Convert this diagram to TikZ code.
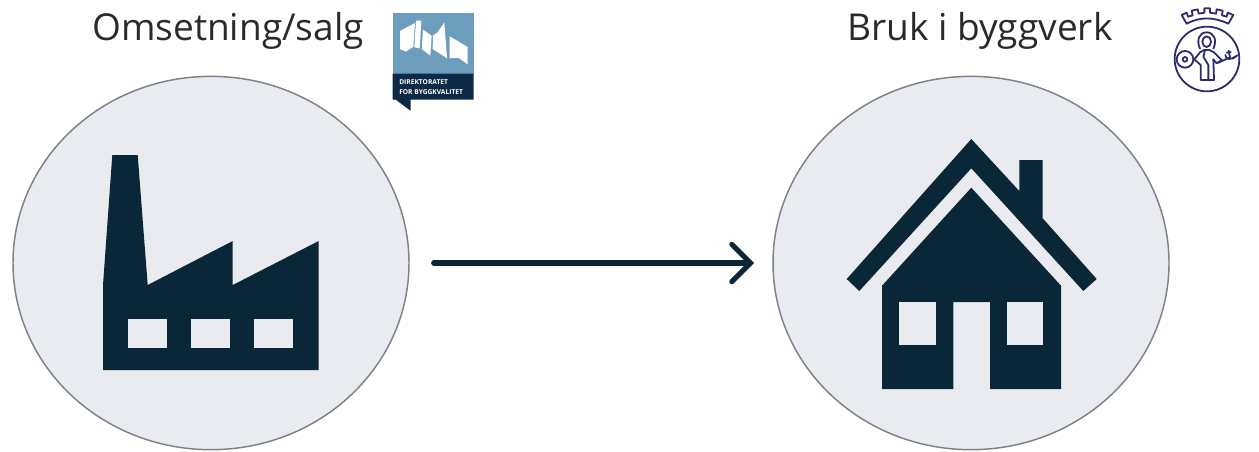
\documentclass[tikz,border=0pt]{standalone}
\usepackage{fontspec}
\setmainfont{Open Sans}
\usetikzlibrary{shapes.geometric,arrows.meta}
\definecolor{ink}{HTML}{0A2737}
\definecolor{pale}{HTML}{E9EBF1}
\definecolor{rim}{HTML}{7C8388}
\definecolor{label}{HTML}{2A2A2A}
\definecolor{dibk}{HTML}{6D9DBD}
\definecolor{dibkdark}{HTML}{0C2A45}
\definecolor{seal}{HTML}{2D2B6C}
\tikzset{
  disc/.style={ellipse,draw=rim,fill=pale,line width=1.1pt,minimum width=297pt,minimum height=280pt,inner sep=0pt,outer sep=0pt},
  heading/.style={anchor=base west,inner sep=0pt,text=label,font=\fontsize{27.8pt}{30pt}\selectfont},
  icon/.style={fill=ink,draw=none},
  hole/.style={fill=pale,draw=none},
  flow/.style={draw=ink,line width=3.8pt,line cap=round,-{Straight Barb[length=14pt,width=28pt,line cap=round,line width=3.8pt]}},
  tiny/.style={anchor=base west,inner sep=0pt,text=white,font=\fontsize{5pt}{6pt}\selectfont\bfseries},
  sealline/.style={draw=seal,line width=1.35pt,line join=round,line cap=round}
}
\begin{document}
\begin{tikzpicture}[x=.75pt,y=-.75pt]
\useasboundingbox (0,0) rectangle (1259,451);
\node[disc] (source) at (211,263) {};
\node[disc] (target) at (971,263) {};
\node[heading] (salg) at (92,40) {Omsetning/salg};
\node[heading] (bruk) at (847,40) {Bruk i byggverk};
\draw[flow,shorten <=18.5pt,shorten >=14.2pt] (source) -- (target);
% factory
\fill[icon] (112.3,155) -- (137.7,155) -- (147.7,285) -- (232.7,241) -- (232.7,285) -- (318.7,241) -- (318.7,370) -- (103,370) -- (103,285) -- cycle;
\fill[hole] (128.3,319.3) rectangle (167,348.3);
\fill[hole] (191.3,319.3) rectangle (230,348.3);
\fill[hole] (254.3,319.3) rectangle (293.3,348.3);
% house
\fill[icon] (971.3,139) -- (1019.3,191) -- (1019.3,160) -- (1042.7,160) -- (1042.7,218.3) -- (1096.7,279) -- (1083.3,291) -- (971.3,168.3) -- (859.3,291) -- (846.7,279) -- cycle;
\fill[icon] (971.3,187.7) -- (1061,285.7) -- (1061,389) -- (990,389) -- (990,302) -- (953.3,302) -- (953.3,389) -- (882,389) -- (882,285.7) -- cycle;
\fill[hole] (899,302) rectangle (936,344.7);
\fill[hole] (1007.3,302) rectangle (1043.3,344.7);
% DiBK logo
\fill[dibk] (392.7,12.7) rectangle (473.7,73.5);
\fill[dibkdark] (392.7,73.5) -- (473.7,73.5) -- (473.7,99.5) -- (410.5,99.5) -- (410.5,110.7) -- (395.5,99.5) -- (392.7,99.5) -- cycle;
\begin{scope}[shift={(395,15)},scale=1/3]
\fill[white] (15,48) -- (60,24) -- (55,95) -- (33,110) -- (15,102) -- cycle;
\fill[white] (63,17) -- (79,17) -- (74,100) -- (58,97) -- cycle;
\fill[white] (84,44) -- (110,62) -- (106,122) -- (80,102) -- cycle;
\fill[white] (114,62) -- (128,52) -- (148,22) -- (156,130) -- (113,102) -- cycle;
\fill[white] (164,64) -- (218,96) -- (218,148) -- (190,128) -- (164,130) -- cycle;
\end{scope}
\node[tiny] (dibkone) at (399,84.5) {DIREKTORATET};
\node[tiny] (dibktwo) at (399,94) {FOR BYGGKVALITET};
% Oslo seal
\begin{scope}[shift={(1150,0)},scale=1/3]
\draw[sealline] (171,177) circle (97);
\draw[sealline] (110,71) .. controls (150,50) and (190,50) .. (235,71);
\draw[sealline] (110,71) -- (95,45) -- (110,38) -- (114,50) -- (128,46) -- (125,32) -- (143,28) -- (146,41) -- (163,38) -- (163,25) -- (180,25) -- (180,38) -- (198,41) -- (200,28) -- (218,32) -- (216,46) -- (230,50) -- (233,38) -- (250,45) -- (235,71);
% halo and head
\draw[sealline] (150,146) .. controls (138,120) and (148,97) .. (170,97) .. controls (192,97) and (202,120) .. (190,146);
\draw[sealline] (170,125) ellipse (13 and 16);
% figure
\draw[sealline] (133,178) -- (150,157) -- (162,150) -- (178,150) -- (192,157) -- (215,180) -- (200,190) -- (190,178) -- (192,240) -- (152,240) -- (152,195) -- (133,178);
\draw[sealline] (165,150) -- (160,170) -- (175,195) -- (175,240);
% disc
\draw[sealline] (105,178) circle (25);
\draw[sealline] (105,178) circle (7);
% staff
\draw[sealline] (205,188) -- (240,172);
\draw[sealline] (226,165) .. controls (226,180) and (245,180) .. (255,170);
\draw[sealline] (240,172) -- (236,152);
\draw[sealline] (230,158) -- (242,156);
\draw[sealline] (248,176) -- (262,166);
\end{scope}
\end{tikzpicture}
\end{document}
